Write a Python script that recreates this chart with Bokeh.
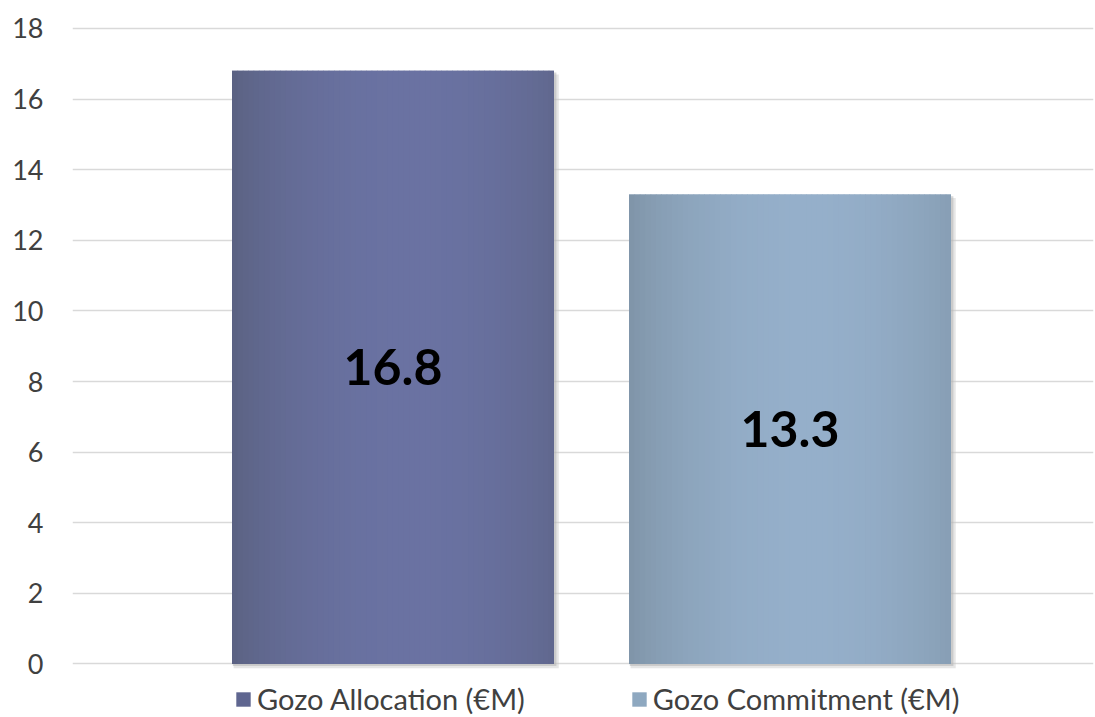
from bokeh.plotting import figure
from bokeh.models import Range1d, ColumnDataSource, Legend, LegendItem
from bokeh.core.properties import value
from bokeh.embed import file_html
from bokeh.resources import INLINE
import math

# ---- data ----
series = ["Gozo Allocation (\u20acM)", "Gozo Commitment (\u20acM)"]
values = [16.8, 13.3]
labels = ["16.8", "13.3"]
edge_colors = [(0x5a, 0x61, 0x81), (0x7e, 0x93, 0xa6)]
center_colors = [(0x6a, 0x72, 0xa2), (0x95, 0xaf, 0xca)]
legend_colors = ["#5f6690", "#8ea8c0"]
y_ticks = list(range(0, 19, 2))

FONT = "Lato"
positions = [1, 2]
bar_w = 0.811
N = 60

p = figure(width=1094, height=716, output_backend="svg", toolbar_location=None,
           x_range=Range1d(0.1927, 2.7645), y_range=Range1d(-1.487, 18.113),
           x_axis_location=None, min_border_left=72, min_border_right=1,
           min_border_top=24, min_border_bottom=0)
p.outline_line_color = None
p.xgrid.visible = False
p.ygrid.grid_line_color = "#d9d9d9"
p.ygrid.grid_line_width = 1.5
p.yaxis.ticker = y_ticks
p.yaxis.axis_line_color = None
p.yaxis.major_tick_line_color = None
p.yaxis.minor_tick_line_color = None
p.yaxis.major_label_standoff = 23
p.yaxis.major_label_text_font = FONT
p.yaxis.major_label_text_font_size = "27px"
p.yaxis.major_label_text_color = "#404040"

def mix(a, b, f):
    return "#%02x%02x%02x" % tuple(int(round(a[i] + (b[i] - a[i]) * f)) for i in range(3))

items = []
for k, (xc, v) in enumerate(zip(positions, values)):
    left = xc - bar_w / 2
    # soft shadow
    p.quad(left=[left + 0.004], right=[left + bar_w + 0.012], top=[v - 0.1], bottom=[-0.12],
           fill_color="#c8c8c8", fill_alpha=0.45, line_color=None)
    p.quad(left=[left + 0.002], right=[left + bar_w + 0.006], top=[v - 0.05], bottom=[-0.06],
           fill_color="#b0b0b0", fill_alpha=0.5, line_color=None)
    base = p.quad(left=[left], right=[left + bar_w], top=[v], bottom=[0],
                  fill_color=legend_colors[k], line_color=None)
    items.append(LegendItem(label=series[k], renderers=[base]))
    lefts, rights, cols = [], [], []
    for i in range(N):
        t = (i + 0.5) / N
        f = math.sin(math.pi * min(1.0, t / 1.1)) ** 0.7
        lefts.append(left + i * bar_w / N)
        rights.append(left + (i + 1) * bar_w / N + 0.002)
        cols.append(mix(edge_colors[k], center_colors[k], f))
    rights[-1] = left + bar_w
    src = ColumnDataSource(dict(left=lefts, right=rights, top=[v] * N, bottom=[0] * N, c=cols))
    p.quad(left="left", right="right", top="top", bottom="bottom", fill_color="c",
           line_color=None, source=src)

p.text(x=positions, y=[v / 2 for v in values], text=labels, text_align="center",
       text_baseline="middle", text_font=value(FONT), text_font_style="bold",
       text_font_size="50px", text_color="#000000")

legend = Legend(items=items, orientation="horizontal", location=(162, 0),
                label_text_font=FONT, label_text_font_size="29px",
                label_text_color="#404040", glyph_width=18, glyph_height=18,
                label_standoff=5, spacing=105, padding=0, margin=0,
                border_line_color=None, background_fill_alpha=0)
p.add_layout(legend, "center")

open("out.html", "w").write(file_html(p, INLINE))
